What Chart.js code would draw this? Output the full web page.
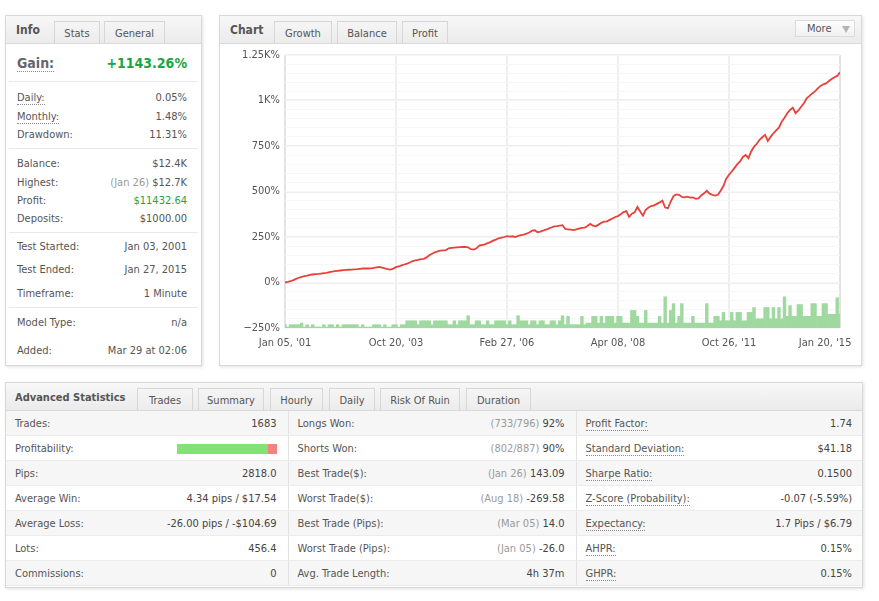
<!DOCTYPE html>
<html>
<head>
<meta charset="utf-8">
<script src="https://cdn.jsdelivr.net/npm/chart.js@4"></script>
<style>
body{margin:0;width:879px;height:601px;background:#fff;font-family:Tahoma,"DejaVu Sans Condensed","DejaVu Sans",sans-serif;font-size:11px;color:#555;position:relative;overflow:hidden;}
.panel{position:absolute;border:1px solid #d9d9d9;background:#fff;box-shadow:1px 1px 3px rgba(0,0,0,0.13);box-sizing:border-box;}
.head{position:absolute;left:0;top:0;right:0;height:27px;background:linear-gradient(#f7f7f7,#ebebeb);border-bottom:1px solid #d9d9d9;}
.title{position:absolute;left:10px;top:0;line-height:29px;font-weight:bold;font-size:11px;color:#555;}
.tab{position:absolute;top:5px;height:22px;line-height:24px;box-sizing:border-box;border:1px solid #d6d6d6;border-bottom:none;background:linear-gradient(#f5f5f5,#ececec);text-align:center;color:#555;font-size:11px;}
.row{position:absolute;left:11px;right:14px;height:18px;line-height:18px;}
.row .v{position:absolute;right:0;top:0;}
.sep{position:absolute;left:3px;right:3px;height:1px;background:#e9e9e9;}
.dot{border-bottom:1px dotted #8a8a8a;}
.grey{color:#9a9a9a;}
.green{color:#1aa541;}
.more{position:absolute;left:575px;top:4px;width:60px;height:17px;box-sizing:border-box;border:1px solid #dcdcdc;background:linear-gradient(#fdfdfd,#f1f1f1);}
.more span{position:absolute;left:11px;top:0;line-height:16px;color:#555;}
.more i{position:absolute;right:4px;top:5px;width:0;height:0;border-left:4px solid transparent;border-right:4px solid transparent;border-top:7px solid #b4b4b4;}
table.adv{position:absolute;left:0;top:28px;width:856px;border-collapse:collapse;table-layout:fixed;}
table.adv td{height:24px;padding:0 11px 0 9px;border-bottom:1px solid #ececec;border-right:1px solid #e2e2e2;white-space:nowrap;}
table.adv td:last-child{border-right:none;padding-right:10px;}
table.adv tr:nth-child(odd) td{background:#f6f6f6;}
table.adv td b{font-weight:normal;float:right;color:#444;}
.pbar{display:inline-block;width:100px;height:10px;vertical-align:middle;background:linear-gradient(90deg,#86e07a 0,#86e07a 91%,#f58282 91%,#f58282 100%);}
</style>
</head>
<body>

<div class="panel" style="left:5px;top:15px;width:197px;height:351px;">
  <div class="head">
    <div class="title" style="font-size:12px;">Info</div>
    <div class="tab" style="left:48px;width:46px;">Stats</div>
    <div class="tab" style="left:98px;width:61px;">General</div>
  </div>
  <div class="row" style="top:36px;height:22px;line-height:22px;font-size:14px;font-weight:bold;"><span class="dot" style="color:#666;">Gain:</span><span class="v green">+1143.26%</span></div>
  <div class="sep" style="top:65px;"></div>
  <div class="row" style="top:73px;"><span class="dot">Daily:</span><span class="v">0.05%</span></div>
  <div class="row" style="top:92px;"><span class="dot">Monthly:</span><span class="v">1.48%</span></div>
  <div class="row" style="top:110px;"><span>Drawdown:</span><span class="v">11.31%</span></div>
  <div class="sep" style="top:132px;"></div>
  <div class="row" style="top:139px;"><span>Balance:</span><span class="v">$12.4K</span></div>
  <div class="row" style="top:158px;"><span>Highest:</span><span class="v"><span class="grey">(Jan 26)</span> $12.7K</span></div>
  <div class="row" style="top:176px;"><span>Profit:</span><span class="v green">$11432.64</span></div>
  <div class="row" style="top:194px;"><span>Deposits:</span><span class="v">$1000.00</span></div>
  <div class="sep" style="top:216px;"></div>
  <div class="row" style="top:222px;"><span>Test Started:</span><span class="v">Jan 03, 2001</span></div>
  <div class="row" style="top:245px;"><span>Test Ended:</span><span class="v">Jan 27, 2015</span></div>
  <div class="row" style="top:269px;"><span>Timeframe:</span><span class="v">1 Minute</span></div>
  <div class="sep" style="top:291px;"></div>
  <div class="row" style="top:298px;"><span>Model Type:</span><span class="v">n/a</span></div>
  <div class="row" style="top:326px;"><span>Added:</span><span class="v">Mar 29 at 02:06</span></div>
</div>

<div class="panel" style="left:219px;top:15px;width:643px;height:351px;">
  <div class="head">
    <div class="title" style="font-size:12px;">Chart</div>
    <div class="tab" style="left:54px;width:58px;">Growth</div>
    <div class="tab" style="left:117px;width:60px;">Balance</div>
    <div class="tab" style="left:182px;width:46px;">Profit</div>
    <div class="more"><span>More</span><i></i></div>
  </div>
  <div style="position:absolute;left:0;top:28px;width:640px;height:320px;">
    <canvas id="growthChart"></canvas>
  </div>
</div>

<div class="panel" style="left:5px;top:382px;width:858px;height:206px;">
  <div class="head">
    <div class="title" style="left:9px;">Advanced Statistics</div>
    <div class="tab" style="left:131px;width:56px;">Trades</div>
    <div class="tab" style="left:192px;width:66px;">Summary</div>
    <div class="tab" style="left:264px;width:53px;">Hourly</div>
    <div class="tab" style="left:323px;width:46px;">Daily</div>
    <div class="tab" style="left:374px;width:80px;">Risk Of Ruin</div>
    <div class="tab" style="left:460px;width:65px;">Duration</div>
  </div>
  <table class="adv">
    <colgroup><col style="width:282px"><col style="width:288px"><col style="width:286px"></colgroup>
    <tr><td>Trades:<b>1683</b></td><td>Longs Won:<b><span class="grey">(733/796)</span> 92%</b></td><td><span class="dot">Profit Factor:</span><b>1.74</b></td></tr>
    <tr><td>Profitability:<b><span class="pbar"></span></b></td><td>Shorts Won:<b><span class="grey">(802/887)</span> 90%</b></td><td><span class="dot">Standard Deviation:</span><b>$41.18</b></td></tr>
    <tr><td>Pips:<b>2818.0</b></td><td>Best Trade($):<b><span class="grey">(Jan 26)</span> 143.09</b></td><td><span class="dot">Sharpe Ratio:</span><b>0.1500</b></td></tr>
    <tr><td>Average Win:<b>4.34 pips / $17.54</b></td><td>Worst Trade($):<b><span class="grey">(Aug 18)</span> -269.58</b></td><td><span class="dot">Z-Score (Probability):</span><b>-0.07 (-5.59%)</b></td></tr>
    <tr><td>Average Loss:<b>-26.00 pips / -$104.69</b></td><td>Best Trade (Pips):<b><span class="grey">(Mar 05)</span> 14.0</b></td><td><span class="dot">Expectancy:</span><b>1.7 Pips / $6.79</b></td></tr>
    <tr><td>Lots:<b>456.4</b></td><td>Worst Trade (Pips):<b><span class="grey">(Jan 05)</span> -26.0</b></td><td><span class="dot">AHPR:</span><b>0.15%</b></td></tr>
    <tr><td>Commissions:<b>0</b></td><td>Avg. Trade Length:<b>4h 37m</b></td><td><span class="dot">GHPR:</span><b>0.15%</b></td></tr>
  </table>
</div>

<script>
// growth in % (201 samples across the test)
const growth = [
    0, 3, 7, 13, 20, 26, 31, 35, 38, 42,
    44, 46, 47, 49, 51, 53, 57, 60, 62, 64,
    66, 68, 69, 70, 71, 72, 73, 75, 77, 77,
    77, 78, 80, 83, 86, 82, 78, 74, 71, 76,
    84, 88, 94, 99, 104, 110, 118, 121, 124, 128,
    130, 138, 150, 158, 166, 171, 175, 177, 178, 188,
    190, 192, 193, 194, 195, 196, 193, 183, 181, 188,
    203, 206, 210, 216, 222, 230, 236, 243, 246, 250,
    255, 252, 254, 250, 256, 260, 263, 268, 275, 285,
    287, 276, 280, 285, 290, 296, 302, 308, 310, 313,
    315, 294, 292, 290, 288, 292, 296, 300, 302, 310,
    322, 312, 309, 318, 328, 334, 336, 344, 352, 360,
    365, 375, 387, 392, 360, 378, 385, 415, 390, 367,
    400, 412, 420, 424, 432, 440, 450, 412, 408, 445,
    475, 484, 482, 470, 468, 472, 466, 468, 460, 462,
    478, 490, 504, 488, 482, 478, 482, 504, 530, 570,
    592, 610, 630, 650, 665, 690, 701, 683, 720, 745,
    762, 784, 798, 811, 778, 800, 820, 836, 851, 884,
    905, 930, 948, 961, 930, 945, 966, 985, 1012, 1025,
    1039, 1050, 1067, 1080, 1089, 1094, 1107, 1118, 1128, 1135,
    1155
];

// traded lots for the same samples (volume bars at the bottom)
const lots = [
    0.17, 0.05, 0.17, 0.17, 0.17, 0.17, 0.25, 0.05, 0.17, 0.05,
    0.17, 0.05, 0.05, 0.05, 0.17, 0.05, 0.17, 0.17, 0.05, 0.17,
    0.05, 0.17, 0.17, 0.17, 0.17, 0.17, 0.17, 0.05, 0.17, 0.05,
    0.05, 0.05, 0.17, 0.17, 0.17, 0.05, 0.17, 0.05, 0.05, 0.17,
    0.17, 0.05, 0.17, 0.17, 0.37, 0.37, 0.37, 0.37, 0.17, 0.37,
    0.37, 0.37, 0.37, 0.17, 0.37, 0.37, 0.37, 0.37, 0.37, 0.17,
    0.17, 0.37, 0.17, 0.37, 0.37, 0.37, 0.63, 0.17, 0.17, 0.37,
    0.37, 0.17, 0.17, 0.37, 0.17, 0.17, 0.37, 0.37, 0.37, 0.37,
    0.17, 0.37, 0.17, 0.17, 0.63, 0.37, 0.37, 0.37, 0.17, 0.37,
    0.37, 0.17, 0.37, 0.37, 0.17, 0.17, 0.37, 0.37, 0.17, 0.37,
    0.63, 0.17, 0.6, 0.17, 0.17, 0.17, 0.17, 0.6, 0.17, 0.25,
    0.25, 0.6, 0.6, 0.25, 0.6, 0.25, 0.6, 0.6, 0.6, 0.25,
    0.6, 0.6, 0.25, 0.25, 0.25, 0.9, 0.9, 0.6, 0.25, 0.25,
    0.9, 0.25, 0.25, 0.25, 0.25, 0.6, 0.25, 1.6, 0.25, 0.9,
    1.25, 0.25, 0.6, 1.25, 0.25, 0.25, 0.25, 0.6, 0.25, 0.25,
    0.25, 0.25, 1.25, 0.25, 0.25, 0.6, 0.6, 0.37, 0.8, 0.37,
    0.37, 0.8, 0.37, 0.8, 0.8, 0.37, 0.37, 0.8, 0.8, 1.05,
    0.47, 0.47, 0.47, 1.05, 1.05, 0.47, 1.05, 0.47, 1.05, 0.47,
    1.6, 0.6, 1.15, 0.6, 0.6, 1.2, 1.2, 0.6, 0.6, 0.6,
    1.25, 1.25, 0.6, 0.6, 1.25, 1.25, 0.7, 0.7, 0.7, 1.55,
    0.7
];

const xTickLabels = ["Jan 05, '01", "Oct 20, '03", "Feb 27, '06", "Apr 08, '08", "Oct 26, '11", "Jan 20, '15"];
const yTickValues = [-250, 0, 250, 500, 750, 1000, 1250];
const yTickLabels = ["\u2212250%", "0%", "250%", "500%", "750%", "1K%", "1.25K%"];

const fontFamily = 'Tahoma, "DejaVu Sans Condensed", "DejaVu Sans", sans-serif';
const lastIndex = growth.length - 1;
const xTickValues = xTickLabels.map((_, k) => k * lastIndex / (xTickLabels.length - 1));

const ctx = document.getElementById('growthChart');
new Chart(ctx, {
    type: 'line',
    data: {
        datasets: [{
            label: 'Growth',
            data: growth.map((v, i) => ({ x: i, y: v })),
            borderColor: '#e8413b',
            borderWidth: 1.8,
            pointRadius: 0,
            tension: 0,
            yAxisID: 'y',
            order: 0
        }, {
            type: 'bar',
            label: 'Lots',
            data: lots.map((v, i) => ({ x: i, y: v })),
            backgroundColor: '#a0d9a0',
            barPercentage: 1,
            categoryPercentage: 1,
            yAxisID: 'yVol',
            order: 1
        }]
    },
    options: {
        responsive: true,
        maintainAspectRatio: false,
        animation: false,
        layout: { padding: { top: 11, right: 20, bottom: 6, left: 0 } },
        plugins: { legend: { display: false }, tooltip: { enabled: false } },
        scales: {
            x: {
                type: 'linear',
                min: 0,
                max: lastIndex,
                offset: false,
                afterBuildTicks: s => { s.ticks = xTickValues.map(v => ({ value: v })); },
                afterFit: s => { s.height = 30; s.paddingLeft = 0; s.paddingRight = 0; },
                ticks: {
                    autoSkip: false,
                    maxRotation: 0,
                    padding: 9,
                    color: '#555',
                    font: { family: fontFamily, size: 11 },
                    // last label pushed left so it stays inside the panel
                    callback: (v, k) => k === xTickLabels.length - 1 ? xTickLabels[k] + '\u2003\u2003\u2003' : xTickLabels[k]
                },
                grid: {
                    offset: false,
                    drawTicks: false,
                    lineWidth: 2,
                    color: c => (c.index === 0 || c.index === xTickLabels.length - 1) ? '#e2e2e2' : '#efefef'
                },
                border: { display: false }
            },
            y: {
                type: 'linear',
                position: 'left',
                min: -250,
                max: 1250,
                afterBuildTicks: s => { s.ticks = yTickValues.map(v => ({ value: v })); },
                afterFit: s => { s.width = 65; s.paddingTop = 0; s.paddingBottom = 0; },
                ticks: {
                    padding: 5,
                    color: '#555',
                    font: { family: fontFamily, size: 11 },
                    callback: v => yTickLabels[yTickValues.indexOf(v)]
                },
                grid: {
                    drawTicks: false,
                    lineWidth: 2,
                    color: c => c.index === 0 ? '#dcdcdc' : '#eeeeee'
                },
                border: { display: false }
            },
            yMinor: {
                type: 'linear',
                position: 'left',
                min: -250,
                max: 1250,
                z: -1,
                afterFit: s => { s.width = 0; },
                ticks: { display: false, stepSize: 50 },
                grid: { drawTicks: false, color: '#f6f6f6', lineWidth: 1 },
                border: { display: false }
            },
            yVol: {
                type: 'linear',
                display: false,
                min: 0,
                max: 14
            }
        }
    }
});
</script>
</body>
</html>
